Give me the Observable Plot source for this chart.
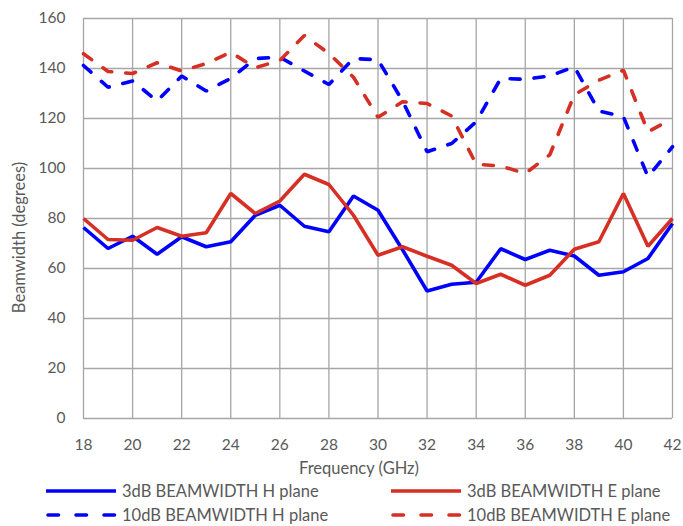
<!DOCTYPE html>
<html><head><meta charset="utf-8">
<script src="https://cdn.jsdelivr.net/npm/d3@7"></script>
<script src="https://cdn.jsdelivr.net/npm/@observablehq/plot@0.6"></script>
<style>
body{margin:0;background:#fff;font-family:Lato,"Open Sans",sans-serif;overflow:hidden;}
#legend{position:relative;width:683px;height:48px;font-size:16.5px;color:#595959;}
.item{position:absolute;display:flex;align-items:center;height:20px;white-space:nowrap;line-height:20px;}
.item svg{margin-right:5px;}
</style></head><body>
<div id="chart"></div>
<div id="legend"></div>
<script>
const freq = [18,19,20,21,22,23,24,25,26,27,28,29,30,31,32,33,34,35,36,37,38,39,40,41,42];
const h3  = [76.4,68,72.9,65.7,72.7,68.7,70.7,81.3,85.3,76.9,74.7,89,83.3,67.5,51,53.7,54.5,67.9,63.6,67.3,65,57.3,58.7,64,78];
const e3  = [80,71.6,71.3,76.4,72.9,74.3,90,82,87,97.7,93.6,81.3,65.3,68.7,64.9,61.3,54,57.7,53.3,57.3,67.7,70.7,90,68.9,80];
const h10 = [141.2,132.5,135,127,137,131,136,144,144.5,139,133.6,144,143.5,127,106.7,110,118.7,136,135.7,137,140.7,123,120.7,96.7,108.7];
const e10 = [145.9,138.8,138,142.3,139,142,146.5,140.3,143.2,153.2,146,136.5,120.5,126.7,126,121,101.7,101,98,105.5,129.5,135.3,139.3,114.7,120];
const seriesNames = ["3dB BEAMWIDTH H plane","3dB BEAMWIDTH E plane","10dB BEAMWIDTH H plane","10dB BEAMWIDTH E plane"];
const seriesColors = ["#0000ff","#d62f24","#0000ff","#d62f24"];
const seriesDash = [null,null,"10,14","10,14"];
const xTicks = [18,20,22,24,26,28,30,32,34,36,38,40,42];
const yTicks = [0,20,40,60,80,100,120,140,160];

const allValues = [h3,e3,h10,e10];
const rows = [];
allValues.forEach((vals,si)=>vals.forEach((v,i)=>rows.push({f:freq[i],v,s:seriesNames[si]})));

const lineMarks = seriesNames.map((name,si)=>Plot.line(rows.filter(r=>r.s===name),{
  x:"f", y:"v", stroke:seriesColors[si], strokeWidth:3.6,
  strokeDasharray: seriesDash[si] || undefined, strokeLinecap: seriesDash[si] ? "round" : "butt", strokeLinejoin:"miter"
}));

const chart = Plot.plot({
  width:683, height:478,
  marginTop:18, marginBottom:60, marginLeft:83, marginRight:11,
  style:{fontFamily:"Lato, 'Open Sans', sans-serif", fontSize:"15.5px", color:"#595959", background:"white"},
  x:{domain:[18,42], label:null},
  y:{domain:[0,160], label:null},
  marks:[
    Plot.gridX(xTicks,{stroke:"#a6a6a6", strokeOpacity:1, strokeWidth:1.3}),
    Plot.gridY(yTicks,{stroke:"#a6a6a6", strokeOpacity:1, strokeWidth:1.3}),
    Plot.axisX(xTicks,{tickSize:0, tickPadding:20, label:null, tickFormat:d=>String(d)}),
    Plot.axisY(yTicks,{tickSize:0, tickPadding:18, label:null, tickFormat:d=>String(d)}),
    ...lineMarks,
    Plot.text(["Frequency (GHz)"],{frameAnchor:"bottom", lineAnchor:"middle", dy:50, dx:-19, fill:"#595959", fontSize:16.5}),
    Plot.text(["Beamwidth (degrees)"],{frameAnchor:"left", rotate:-90, textAnchor:"middle", lineAnchor:"middle", dx:-64, dy:19, fill:"#595959", fontSize:16.5})
  ]
});
document.getElementById("chart").appendChild(chart);

const legendPos = [[46,3],[391,3],[46,27],[391,27]];
const legend = document.getElementById("legend");
seriesNames.forEach((name,i)=>{
  const d = document.createElement("div");
  d.className="item";
  d.style.left = legendPos[i][0]+"px";
  d.style.top = legendPos[i][1]+"px";
  const dash = seriesDash[i] ? `stroke-dasharray="10.5,17.5" stroke-linecap="round"` : "";
  const x1 = seriesDash[i] ? 2 : 0, x2 = 70;
  d.innerHTML = `<svg width="71" height="20"><line x1="${x1}" x2="${x2}" y1="10" y2="10" stroke="${seriesColors[i]}" stroke-width="3.6" ${dash}/></svg><span>${name}</span>`;
  legend.appendChild(d);
});
</script>
</body></html>
